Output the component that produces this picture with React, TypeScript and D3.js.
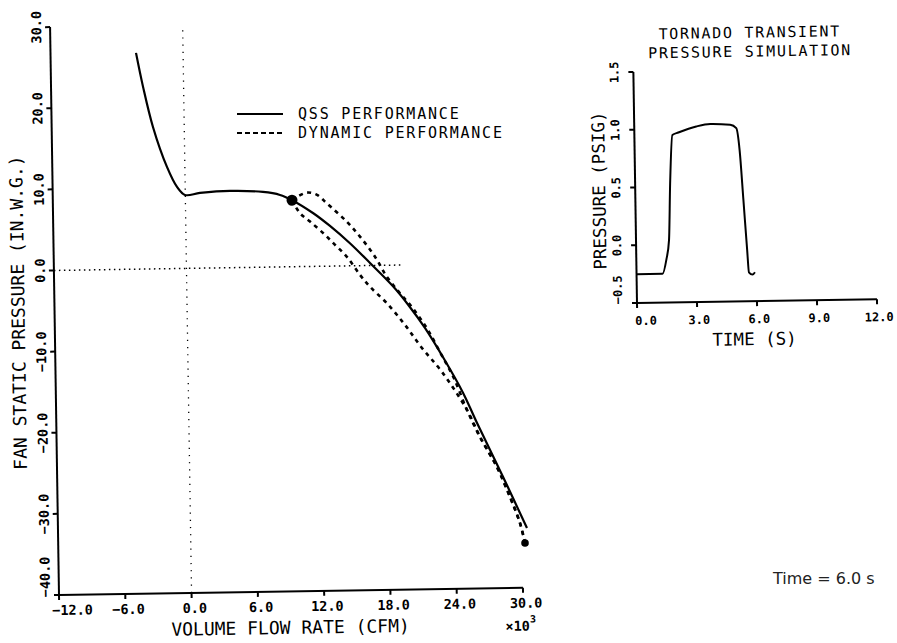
import React from 'react';
import * as d3 from 'd3';

// ---- main panel data (flow in 10^3 CFM, pressure in IN.W.G.) ----
const ossFlow = [-4.26, -3.67, -2.83, -1.62, -0.74, -0.03, 1.33, 4.05, 7.03, 8.57, 9.65, 11.56, 13.05, 14.83, 16.62, 18.69, 20.03, 21.5, 23.2, 24.86, 26.08, 28.36, 30.45];
const ossPressure = [26.65, 22.45, 17.49, 12.54, 10.06, 9.05, 9.27, 9.46, 9.27, 8.87, 8.2, 6.55, 4.95, 2.78, 0.31, -2.64, -4.94, -7.8, -11.7, -15.88, -19.62, -26.32, -32.65];

const dynUpperFlow = [9.65, 10.99, 11.92, 12.79, 14.57, 15.75, 17.08, 18.11, 19.29, 20.4, 21.7, 22.9, 24.0, 25.19, 26.33, 27.82, 28.96, 29.82, 30.25];
const dynUpperPressure = [8.2, 9.1, 8.8, 7.76, 5.45, 3.58, 1.08, -1.4, -3.48, -5.3, -7.9, -11.0, -13.9, -17.99, -21.34, -25.08, -28.8, -32.01, -34.49];

const dynLowerFlow = [9.65, 10.36, 11.25, 12.44, 13.48, 14.52, 15.7, 16.58, 18.1, 19.7, 21.2, 22.98, 25.19, 26.33, 27.82, 28.96, 29.82, 30.25];
const dynLowerPressure = [8.2, 6.57, 5.53, 4.06, 2.61, 1.14, -1.14, -2.61, -4.7, -7.39, -10.26, -13.26, -17.99, -21.34, -25.08, -28.8, -32.01, -34.49];

const operatingPoint = [9.65, 8.2];
const endPoint = [30.25, -34.49];

const xTicks = [-12, -6, 0, 6, 12, 18, 24, 30];
const yTicks = [-40, -30, -20, -10, 0, 10, 20, 30];

// ---- inset data ----
const insetTime = [0, 1.3, 1.5, 1.65, 1.75, 1.9, 2.2, 3.1, 3.8, 4.8, 5.1, 5.25, 5.4, 5.55, 5.62, 5.8, 5.92];
const insetPressure = [-0.25, -0.25, -0.13, 0.04, 0.53, 0.95, 0.97, 1.02, 1.04, 1.03, 1.0, 0.81, 0.38, -0.06, -0.25, -0.27, -0.25];
const insetXTicks = [0, 3, 6, 9, 12];
const insetYTicks = [-0.5, 0, 0.5, 1.0, 1.5];

const MONO = "'DejaVu Sans Mono', monospace";
const fmt = d3.format('.1f');

export default function App() {
  const x = d3.scaleLinear().domain([-12, 30]).range([59, 523]);
  const y = d3.scaleLinear().domain([-40, 30]).range([595, 27]);
  const line = d3
    .line<[number, number]>()
    .x((d) => x(d[0]))
    .y((d) => y(d[1]))
    .curve(d3.curveCatmullRom.alpha(0.5));

  const oss = d3.zip(ossFlow, ossPressure) as [number, number][];
  const up = d3.zip(dynUpperFlow, dynUpperPressure) as [number, number][];
  const lo = d3.zip(dynLowerFlow, dynLowerPressure) as [number, number][];

  const tx = d3.scaleLinear().domain([0, 12]).range([637, 877]);
  const ty = d3.scaleLinear().domain([-0.5, 1.5]).range([303, 72]);
  const insetLine = d3
    .line<[number, number]>()
    .x((d) => tx(d[0]))
    .y((d) => ty(d[1]))
    .curve(d3.curveMonotoneX);
  const inset = d3.zip(insetTime, insetPressure) as [number, number][];

  const x0 = x(-12);
  const y0 = y(-40);

  return (
    <svg
      width={897}
      height={643}
      style={{ position: 'absolute', left: 0, top: 0, background: '#fff' }}
    >
      <rect x={0} y={0} width={897} height={643} fill="#fff" />
      {/* main panel */}
      <g transform={`rotate(-0.9 ${x0} ${y0})`}>
        {/* reference dotted lines */}
        <line x1={x(0)} x2={x(0)} y1={y(-40)} y2={y(30)} stroke="#000" strokeWidth={1.3} strokeDasharray="1.2,6" />
        <line x1={x(-12)} x2={x(19.5)} y1={y(0)} y2={y(0)} stroke="#000" strokeWidth={1.5} strokeDasharray="1.5,3.5" />

        {/* axes */}
        <line x1={x0} x2={x0} y1={y(-40)} y2={y(30)} stroke="#000" strokeWidth={2} />
        <line x1={x(-12)} x2={x(30)} y1={y0} y2={y0} stroke="#000" strokeWidth={2} />
        {yTicks.map((v, i) => (
          <g key={'yt' + v}>
            <line x1={x0 - 5} x2={x0} y1={y(v)} y2={y(v)} stroke="#000" strokeWidth={2} />
            <text
              transform={`translate(${x0 - 9},${i === 0 ? y(v) + 2 : y(v)}) rotate(-90)`}
              textAnchor={i === 0 ? 'start' : 'middle'}
              fontFamily={MONO}
              fontWeight="bold"
              fontSize={13.5}
            >
              {fmt(v)}
            </text>
          </g>
        ))}
        {xTicks.map((v, i) => (
          <g key={'xt' + v}>
            <line x1={x(v)} x2={x(v)} y1={y0} y2={y0 + 5} stroke="#000" strokeWidth={2} />
            <text
              x={i === 0 ? x(v) - 7 : x(v) + 3}
              y={615}
              textAnchor={i === 0 ? 'start' : 'middle'}
              fontFamily={MONO}
              fontWeight="bold"
              fontSize={13.5}
            >
              {fmt(v)}
            </text>
          </g>
        ))}
        <text x={505} y={638} fontFamily={MONO} fontWeight="bold" fontSize={13.5}>
          ×10<tspan dy={-8} fontSize={10}>3</tspan>
        </text>
        <text x={290} y={637.5} textAnchor="middle" fontFamily={MONO} fontSize={18}>
          VOLUME FLOW RATE (CFM)
        </text>
        <text
          transform={`translate(29,312) rotate(-90)`}
          textAnchor="middle"
          fontFamily={MONO}
          fontSize={18}
        >
          FAN STATIC PRESSURE (IN.W.G.)
        </text>

        {/* curves */}
        <path d={line(oss) || ''} fill="none" stroke="#000" strokeWidth={2.2} />
        <path d={line(up) || ''} fill="none" stroke="#000" strokeWidth={2.6} strokeDasharray="4,4.5" />
        <path d={line(lo) || ''} fill="none" stroke="#000" strokeWidth={2.6} strokeDasharray="4,4.5" />
        <circle cx={x(operatingPoint[0])} cy={y(operatingPoint[1])} r={5.5} fill="#000" />
        <circle cx={x(endPoint[0])} cy={y(endPoint[1])} r={3.8} fill="#000" />
      </g>

      {/* legend */}
      <g>
        <line x1={237} x2={283} y1={114} y2={114} stroke="#000" strokeWidth={2.2} />
        <text x={298} y={118.5} fontFamily={MONO} fontSize={15} letterSpacing={1.8}>QSS PERFORMANCE</text>
        <line x1={237} x2={283} y1={133} y2={133} stroke="#000" strokeWidth={2.2} strokeDasharray="5,3" />
        <text x={298} y={137.5} fontFamily={MONO} fontSize={15} letterSpacing={1.8}>DYNAMIC PERFORMANCE</text>
      </g>

      {/* inset panel */}
      <g transform={`rotate(-0.9 ${tx(0)} ${ty(-0.5)})`}>
        <text x={754} y={39.5} textAnchor="middle" fontFamily={MONO} fontSize={15} letterSpacing={1.7}>TORNADO TRANSIENT</text>
        <text x={754} y={58.5} textAnchor="middle" fontFamily={MONO} fontSize={15} letterSpacing={1.7}>PRESSURE SIMULATION</text>
        <line x1={tx(0)} x2={tx(0)} y1={ty(-0.5)} y2={ty(1.5)} stroke="#000" strokeWidth={2} />
        <line x1={tx(0)} x2={tx(12)} y1={ty(-0.5)} y2={ty(-0.5)} stroke="#000" strokeWidth={2} />
        {insetYTicks.map((v, i) => (
          <g key={'iyt' + v}>
            <line x1={tx(0) - 5} x2={tx(0)} y1={ty(v)} y2={ty(v)} stroke="#000" strokeWidth={2} />
            <text
              transform={`translate(${tx(0) - 15},${i === 0 ? ty(v) + 1 : ty(v)}) rotate(-90)`}
              textAnchor={i === 0 ? 'start' : 'middle'}
              fontFamily={MONO}
              fontWeight="bold"
              fontSize={12}
            >
              {fmt(v)}
            </text>
          </g>
        ))}
        {insetXTicks.map((v, i) => (
          <g key={'ixt' + v}>
            <line x1={tx(v)} x2={tx(v)} y1={ty(-0.5)} y2={ty(-0.5) + 5} stroke="#000" strokeWidth={2} />
            <text
              x={i === 0 ? tx(v) - 2 : tx(v) + 2}
              y={325}
              textAnchor={i === 0 ? 'start' : 'middle'}
              fontFamily={MONO}
              fontWeight="bold"
              fontSize={12}
            >
              {fmt(v)}
            </text>
          </g>
        ))}
        <text x={754} y={347} textAnchor="middle" fontFamily={MONO} fontSize={17.5}>TIME (S)</text>
        <text
          transform={`translate(607,190) rotate(-90)`}
          textAnchor="middle"
          fontFamily={MONO}
          fontSize={17.5}
        >
          PRESSURE (PSIG)
        </text>
        <path d={insetLine(inset) || ''} fill="none" stroke="#000" strokeWidth={2} />
      </g>

      <text x={773} y={584} fontFamily="'DejaVu Sans', sans-serif" fontSize={16} fill="#222">
        Time = 6.0 s
      </text>
    </svg>
  );
}
